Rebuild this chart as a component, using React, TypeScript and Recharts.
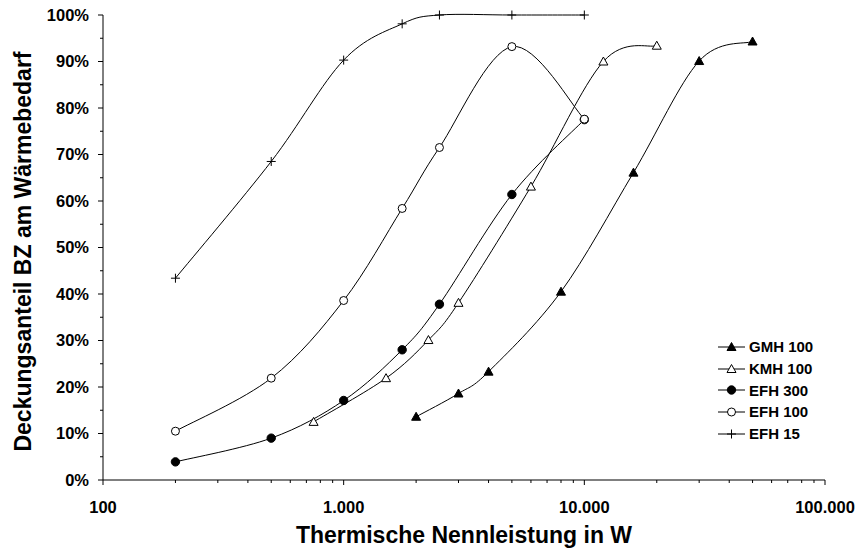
import React from 'react'
import { LineChart, Line, XAxis, YAxis, Legend, Label } from 'recharts'

const FONT = '"Liberation Sans", Arial, sans-serif'

// x values in W, y values in %
const GMH100_X = [2000, 3000, 4000, 8000, 16000, 30000, 50000]
const GMH100_Y = [13.6, 18.6, 23.3, 40.5, 66.1, 90.1, 94.3]
const KMH100_X = [750, 1500, 2250, 3000, 6000, 12000, 20000]
const KMH100_Y = [12.5, 21.9, 30.1, 38.1, 63.1, 90.0, 93.4]
const EFH300_X = [200, 500, 1000, 1750, 2500, 5000, 10000]
const EFH300_Y = [3.9, 9.0, 17.1, 28.0, 37.8, 61.4, 77.5]
const EFH100_X = [200, 500, 1000, 1750, 2500, 5000, 10000]
const EFH100_Y = [10.5, 21.9, 38.6, 58.4, 71.5, 93.2, 77.6]
const EFH15_X = [200, 500, 1000, 1750, 2500, 5000, 10000]
const EFH15_Y = [43.4, 68.5, 90.3, 98.1, 100, 100, 100]

const X_TICKS = [
  100, 200, 300, 400, 500, 600, 700, 800, 900,
  1000, 2000, 3000, 4000, 5000, 6000, 7000, 8000, 9000,
  10000, 20000, 30000, 40000, 50000, 60000, 70000, 80000, 90000,
  100000,
]
const X_MAJOR = [100, 1000, 10000, 100000]
const Y_TICKS = [0, 5, 10, 15, 20, 25, 30, 35, 40, 45, 50, 55, 60, 65, 70, 75, 80, 85, 90, 95, 100]

type Marker = 'triFilled' | 'triOpen' | 'circFilled' | 'circOpen' | 'plus'

const SERIES: { name: string; xs: number[]; ys: number[]; marker: Marker }[] = [
  { name: 'GMH 100', xs: GMH100_X, ys: GMH100_Y, marker: 'triFilled' },
  { name: 'KMH 100', xs: KMH100_X, ys: KMH100_Y, marker: 'triOpen' },
  { name: 'EFH 300', xs: EFH300_X, ys: EFH300_Y, marker: 'circFilled' },
  { name: 'EFH 100', xs: EFH100_X, ys: EFH100_Y, marker: 'circOpen' },
  { name: 'EFH 15', xs: EFH15_X, ys: EFH15_Y, marker: 'plus' },
]

// Excel-like smoothed line (Catmull-Rom as cubic bezier)
const smooth = (context: any) => {
  let pts: [number, number][] = []
  return {
    areaStart() {},
    areaEnd() {},
    lineStart() { pts = [] },
    lineEnd() {
      if (!pts.length) return
      context.moveTo(pts[0][0], pts[0][1])
      for (let i = 0; i < pts.length - 1; i++) {
        const p0 = pts[i - 1] || pts[i]
        const p1 = pts[i]
        const p2 = pts[i + 1]
        const p3 = pts[i + 2] || p2
        context.bezierCurveTo(
          p1[0] + (p2[0] - p0[0]) / 6, p1[1] + (p2[1] - p0[1]) / 6,
          p2[0] - (p3[0] - p1[0]) / 6, p2[1] - (p3[1] - p1[1]) / 6,
          p2[0], p2[1],
        )
      }
    },
    point(x: number, y: number) { pts.push([+x, +y]) },
  }
}

function MarkerShape({ cx, cy, marker }: { cx: number; cy: number; marker: Marker }) {
  if (cx == null || cy == null) return null
  switch (marker) {
    case 'triFilled':
    case 'triOpen':
      return (
        <polygon
          points={`${cx},${cy - 4.5} ${cx - 4.5},${cy + 3.5} ${cx + 4.5},${cy + 3.5}`}
          fill={marker === 'triFilled' ? '#000' : '#fff'}
          stroke="#000"
          strokeWidth={1}
        />
      )
    case 'circFilled':
      return <circle cx={cx} cy={cy} r={4.2} fill="#000" stroke="#000" />
    case 'circOpen':
      return <circle cx={cx} cy={cy} r={4} fill="#fff" stroke="#000" strokeWidth={1} />
    default:
      return (
        <g stroke="#000" strokeWidth={1}>
          <line x1={cx - 4.5} x2={cx + 4.5} y1={cy} y2={cy} />
          <line x1={cx} x2={cx} y1={cy - 4.5} y2={cy + 4.5} />
        </g>
      )
  }
}

const Y_TICK_SIZE = 5
const Y_TICK_MARGIN = 9
const X_TICK_SIZE = 5
const X_TICK_MARGIN = 0

const fmtThousands = (v: number) => String(v).replace(/\B(?=(\d{3})+(?!\d))/g, '.')

function YTick(props: any) {
  const { x, y, payload } = props
  const v = payload.value
  const major = v % 10 === 0
  const ax = x + Y_TICK_MARGIN + Y_TICK_SIZE
  return (
    <g>
      <line x1={ax - (major ? 5 : 3)} x2={ax} y1={y} y2={y} stroke="#000" />
      {major && (
        <text x={x} y={y} dy="0.36em" textAnchor="end" fontFamily={FONT} fontWeight="bold" fontSize={16.5} fill="#000">
          {v}%
        </text>
      )}
    </g>
  )
}

function XTick(props: any) {
  const { x, y, payload } = props
  const v = payload.value
  const major = X_MAJOR.includes(v)
  const ay = y - X_TICK_MARGIN - X_TICK_SIZE
  return (
    <g>
      <line x1={x} x2={x} y1={ay} y2={ay + (major ? 5 : 3)} stroke="#000" />
      {major && (
        <text x={x} y={ay + 33} textAnchor="middle" fontFamily={FONT} fontWeight="bold" fontSize={16.5} fill="#000">
          {fmtThousands(v)}
        </text>
      )}
    </g>
  )
}

function LegendBox() {
  return (
    <div style={{ fontFamily: FONT, fontWeight: 'bold', fontSize: 15, color: '#000' }}>
      {SERIES.map((s) => (
        <div key={s.name} style={{ height: 21.7, display: 'flex', alignItems: 'center' }}>
          <svg width={31} height={14} style={{ display: 'block' }}>
            <line x1={0} x2={27} y1={7} y2={7} stroke="#000" />
            <MarkerShape cx={13.5} cy={7} marker={s.marker} />
          </svg>
          <span style={{ whiteSpace: 'nowrap' }}>{s.name}</span>
        </div>
      ))}
    </div>
  )
}

export default function App() {
  return (
    <div style={{ position: 'absolute', left: 0, top: 0, background: '#fff' }}>
      <LineChart width={860} height={551} margin={{ top: 15, right: 35, bottom: 0, left: 0 }}>
        <XAxis
          type="number"
          dataKey="x"
          scale="log"
          domain={[100, 100000]}
          ticks={X_TICKS}
          interval={0}
          allowDataOverflow
          height={71}
          tickSize={X_TICK_SIZE}
          tickMargin={X_TICK_MARGIN}
          tickLine={false}
          axisLine={{ stroke: '#000' }}
          tick={<XTick />}
        >
          <Label
            content={(p: any) => {
              const vb = p.viewBox
              return (
                <text x={vb.x + vb.width / 2} y={vb.y + 63} textAnchor="middle" fontFamily={FONT} fontWeight="bold" fontSize={23} fill="#000">
                  Thermische Nennleistung in W
                </text>
              )
            }}
          />
        </XAxis>
        <YAxis
          type="number"
          dataKey="y"
          domain={[0, 100]}
          ticks={Y_TICKS}
          interval={0}
          width={103}
          tickSize={Y_TICK_SIZE}
          tickMargin={Y_TICK_MARGIN}
          tickLine={false}
          axisLine={{ stroke: '#000' }}
          tick={<YTick />}
        >
          <Label
            content={(p: any) => {
              const vb = p.viewBox
              const tx = vb.x + 31
              const ty = vb.y + vb.height / 2 + 4
              return (
                <text x={tx} y={ty} transform={`rotate(-90 ${tx} ${ty})`} textAnchor="middle" fontFamily={FONT} fontWeight="bold" fontSize={23} fill="#000">
                  Deckungsanteil BZ am Wärmebedarf
                </text>
              )
            }}
          />
        </YAxis>
        <Legend
          layout="vertical"
          align="center"
          verticalAlign="middle"
          content={() => <LegendBox />}
          wrapperStyle={{ position: 'absolute', left: 718, top: 336, width: 120, height: 110 }}
        />
        {SERIES.map((s) => (
          <Line
            key={s.name}
            name={s.name}
            data={s.xs.map((x, i) => ({ x, y: s.ys[i] }))}
            dataKey="y"
            type={smooth as any}
            stroke="#000"
            strokeWidth={1}
            dot={(p: any) => <MarkerShape key={p.index} cx={p.cx} cy={p.cy} marker={s.marker} />}
            activeDot={false}
            isAnimationActive={false}
          />
        ))}
      </LineChart>
    </div>
  )
}
